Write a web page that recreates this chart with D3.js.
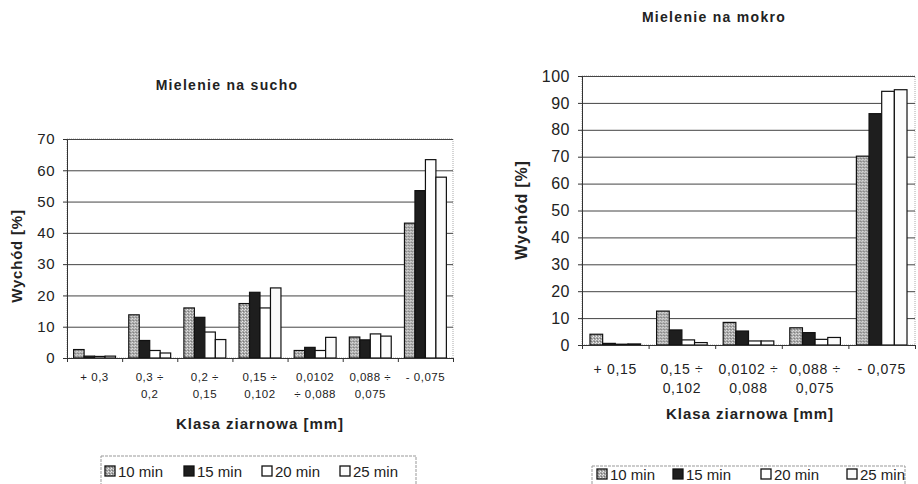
<!DOCTYPE html>
<html>
<head>
<meta charset="utf-8">
<script src="https://cdn.jsdelivr.net/npm/d3@7"></script>
<style>
  body { margin: 0; background: #fff; }
  svg { display: block; font-family: "Liberation Sans", Arial, sans-serif; }
</style>
</head>
<body>
<svg id="chart" width="918" height="484"></svg>
<script>
// series names (legend)
const seriesNames = ["10 min", "15 min", "20 min", "25 min"];

// dry milling
const dryCategories = ["+ 0,3", "0,3 ÷\n0,2", "0,2 ÷\n0,15", "0,15 ÷\n0,102", "0,0102\n÷ 0,088", "0,088 ÷\n0,075", "- 0,075"];
const dry10 = [2.7, 13.8, 16.0, 17.4, 2.4, 6.7, 43.1];
const dry15 = [0.6, 5.6, 13.0, 21.0, 3.4, 5.8, 53.5];
const dry20 = [0.5, 2.4, 8.3, 16.0, 2.4, 7.7, 63.4];
const dry25 = [0.6, 1.6, 5.9, 22.4, 6.6, 7.0, 57.8];
const dryTicks = [0, 10, 20, 30, 40, 50, 60, 70];

// wet milling
const wetCategories = ["+ 0,15", "0,15 ÷\n0,102", "0,0102 ÷\n0,088", "0,088 ÷\n0,075", "- 0,075"];
const wet10 = [4.0, 12.6, 8.4, 6.4, 70.2];
const wet15 = [0.6, 5.6, 5.2, 4.6, 86.0];
const wet20 = [0.3, 1.9, 1.5, 2.1, 94.3];
const wet25 = [0.4, 0.9, 1.5, 2.8, 94.9];
const wetTicks = [0, 10, 20, 30, 40, 50, 60, 70, 80, 90, 100];

let svg = d3.select("#chart");

// stipple pattern for the 10 min bars
let defs = svg.append("defs");
let pat = defs.append("pattern")
    .attr("id", "stipple")
    .attr("width", 3).attr("height", 3)
    .attr("patternUnits", "userSpaceOnUse");
pat.append("rect").attr("width", 3).attr("height", 3).attr("fill", "#a8a8a8");
pat.append("rect").attr("x", 0).attr("y", 0).attr("width", 1).attr("height", 1).attr("fill", "#eee");
pat.append("rect").attr("x", 2).attr("y", 1).attr("width", 1).attr("height", 1).attr("fill", "#ddd");
pat.append("rect").attr("x", 1).attr("y", 2).attr("width", 1).attr("height", 1).attr("fill", "#777");

const fills = ["url(#stipple)", "#1e1e1e", "#ffffff", "#fbfbfb"];

function drawChart(opt) {
  let g = svg.append("g");
  let width = opt.right - opt.left;

  let x0 = d3.scaleBand()
      .domain(opt.categories)
      .range([opt.left, opt.right])
      .paddingInner(0.24)
      .paddingOuter(0.12);

  let x1 = d3.scaleBand()
      .domain(seriesNames)
      .range([0, x0.bandwidth()]);

  let y = d3.scaleLinear()
      .domain([0, opt.max])
      .range([opt.bottom, opt.top]);

  // plot border (faint)
  g.append("rect")
      .attr("x", opt.left).attr("y", opt.top)
      .attr("width", width).attr("height", opt.bottom - opt.top)
      .attr("fill", "none")
      .attr("stroke", "#aaa")
      .attr("stroke-dasharray", "1,1");

  // gridlines
  g.append("g")
      .attr("transform", `translate(${opt.left},0)`)
      .call(d3.axisLeft(y).tickValues(opt.ticks).tickSize(-width).tickFormat(""))
      .call(s => s.select(".domain").remove())
      .call(s => s.selectAll("line").attr("stroke", "#444").attr("stroke-width", 1));

  // bars
  let rows = opt.categories.map((c, i) => ({
    cat: c,
    vals: opt.values.map((v, j) => ({ name: seriesNames[j], value: v[i], k: j }))
  }));

  g.selectAll(".grp")
      .data(rows)
      .enter().append("g")
      .attr("transform", d => `translate(${x0(d.cat)},0)`)
      .selectAll("rect")
      .data(d => d.vals)
      .enter().append("rect")
      .attr("x", d => x1(d.name))
      .attr("y", d => y(d.value))
      .attr("width", x1.bandwidth())
      .attr("height", d => y(0) - y(d.value))
      .attr("fill", d => fills[d.k])
      .attr("stroke", "#111")
      .attr("stroke-width", 1.2);

  // y axis
  g.append("g")
      .attr("transform", `translate(${opt.left},0)`)
      .call(d3.axisLeft(y).tickValues(opt.ticks).tickSize(4).tickSizeOuter(0).tickPadding(8))
      .call(s => s.select(".domain").attr("stroke", "#333"))
      .call(s => s.selectAll("line").attr("stroke", "#333"))
      .call(s => s.selectAll("text")
          .attr("font-size", opt.yFont)
          .attr("font-family", "Liberation Sans, Arial, sans-serif")
          .attr("letter-spacing", 0.5)
          .attr("fill", "#222"));

  // x axis line with boundary ticks
  let xb = d3.scaleLinear().domain([0, opt.categories.length]).range([opt.left, opt.right]);
  g.append("g")
      .attr("transform", `translate(0,${opt.bottom})`)
      .call(d3.axisBottom(xb).tickValues(d3.range(opt.categories.length + 1)).tickSize(4).tickSizeOuter(0).tickFormat(""))
      .call(s => s.select(".domain").attr("stroke", "#333"))
      .call(s => s.selectAll("line").attr("stroke", "#333"));

  // category labels (two lines)
  let labels = g.append("g").selectAll("text")
      .data(opt.categories)
      .enter().append("text")
      .attr("text-anchor", "middle")
      .attr("font-size", opt.xFont)
      .attr("letter-spacing", opt.xSpacing)
      .attr("fill", "#222");
  labels.each(function(d) {
    let parts = d.split("\n");
    let t = d3.select(this);
    parts.forEach((p, i) => {
      t.append("tspan")
          .attr("x", x0(d) + x0.bandwidth() / 2)
          .attr("y", opt.bottom + opt.xLabelY + i * opt.xLineH)
          .text(p);
    });
  });

  // titles
  g.append("text")
      .attr("x", opt.titleX).attr("y", opt.titleY)
      .attr("text-anchor", "middle")
      .attr("font-size", 14).attr("font-weight", "bold")
      .attr("letter-spacing", 1.3)
      .attr("fill", "#222")
      .text(opt.title);

  g.append("text")
      .attr("transform", `translate(${opt.yTitleX},${opt.yTitleY}) rotate(-90)`)
      .attr("text-anchor", "middle")
      .attr("font-size", opt.yTitleFont).attr("font-weight", "bold")
      .attr("letter-spacing", 0.8)
      .attr("fill", "#222")
      .text("Wychód [%]");

  g.append("text")
      .attr("x", opt.xTitleX).attr("y", opt.xTitleY)
      .attr("text-anchor", "middle")
      .attr("font-size", 15).attr("font-weight", "bold")
      .attr("letter-spacing", 1)
      .attr("fill", "#222")
      .text("Klasa ziarnowa [mm]");

  // legend
  let lg = g.append("g");
  lg.append("rect")
      .attr("x", opt.legX).attr("y", opt.legY)
      .attr("width", opt.legW).attr("height", 40)
      .attr("fill", "none")
      .attr("stroke", "#999")
      .attr("stroke-dasharray", "3,1");
  seriesNames.forEach((name, i) => {
    let lx = opt.legItems[i];
    lg.append("rect")
        .attr("x", lx).attr("y", opt.legTextY - 11)
        .attr("width", 10).attr("height", 10)
        .attr("fill", fills[i])
        .attr("stroke", "#111").attr("stroke-width", 1.3);
    lg.append("text")
        .attr("x", lx + 13).attr("y", opt.legTextY)
        .attr("font-size", 15)
        .attr("fill", "#222")
        .text(name);
  });
}

drawChart({
  categories: dryCategories,
  values: [dry10, dry15, dry20, dry25],
  ticks: dryTicks, max: 70,
  left: 67, right: 453, top: 139, bottom: 358,
  yFont: 15, xFont: 11.5, xSpacing: 0.5, xLabelY: 23, xLineH: 17,
  title: "Mielenie na sucho", titleX: 227, titleY: 90,
  yTitleX: 22, yTitleY: 256, yTitleFont: 15,
  xTitleX: 260, xTitleY: 429,
  legX: 101, legY: 456, legW: 315, legTextY: 477,
  legItems: [105, 184, 262, 340]
});

drawChart({
  categories: wetCategories,
  values: [wet10, wet15, wet20, wet25],
  ticks: wetTicks, max: 100,
  left: 582, right: 915, top: 76, bottom: 345,
  yFont: 16, xFont: 14, xSpacing: 0.7, xLabelY: 29, xLineH: 19,
  title: "Mielenie na mokro", titleX: 714, titleY: 22,
  yTitleX: 527, yTitleY: 210, yTitleFont: 16,
  xTitleX: 750, xTitleY: 419,
  legX: 592, legY: 466, legW: 313, legTextY: 480,
  legItems: [597, 673, 761, 847]
});
</script>
</body>
</html>
